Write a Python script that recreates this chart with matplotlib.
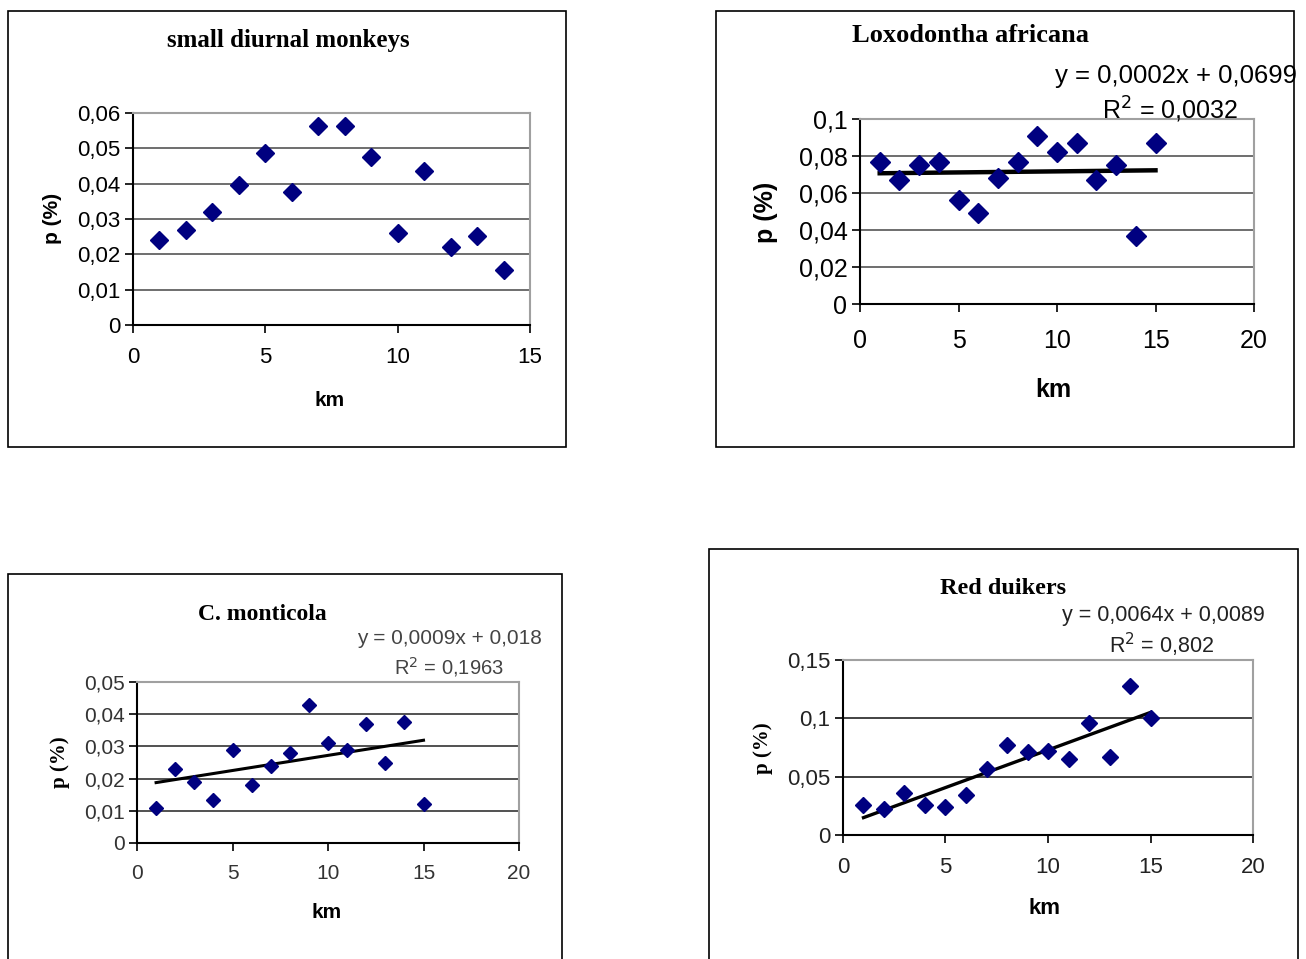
import numpy as np
import matplotlib
matplotlib.use("Agg")
import matplotlib.pyplot as plt
from matplotlib.patches import Rectangle
from matplotlib.ticker import FuncFormatter, MultipleLocator

W, H = 1306, 959

# ---------------- data ----------------
km_monkeys = [1, 2, 3, 4, 5, 6, 7, 8, 9, 10, 11, 12, 13, 14]
p_monkeys = [0.024, 0.027, 0.032, 0.0395, 0.0487, 0.0375, 0.0563, 0.0563,
             0.0475, 0.026, 0.0435, 0.0222, 0.0252, 0.0155]

km_elephant = [1, 2, 3, 4, 5, 6, 7, 8, 9, 10, 11, 12, 13, 14, 15]
p_elephant = [0.077, 0.067, 0.075, 0.077, 0.056, 0.049, 0.068, 0.077,
              0.091, 0.082, 0.087, 0.067, 0.075, 0.037, 0.087]

km_monticola = [1, 2, 3, 4, 5, 6, 7, 8, 9, 10, 11, 12, 13, 14, 15]
p_monticola = [0.011, 0.023, 0.019, 0.0135, 0.029, 0.018, 0.024, 0.028,
               0.043, 0.031, 0.029, 0.037, 0.025, 0.0375, 0.012]

km_duikers = [1, 2, 3, 4, 5, 6, 7, 8, 9, 10, 11, 12, 13, 14, 15]
p_duikers = [0.0257, 0.022, 0.036, 0.0257, 0.024, 0.034, 0.0566, 0.077,
             0.071, 0.072, 0.065, 0.096, 0.067, 0.1277, 0.1]

titles = ["small diurnal monkeys", "Loxodontha africana", "C. monticola", "Red duikers"]
eq_texts = [None,
            ("y = 0,0002x + 0,0699", "R$^2$ = 0,0032"),
            ("y = 0,0009x + 0,018", "R$^2$ = 0,1963"),
            ("y = 0,0064x + 0,0089", "R$^2$ = 0,802")]
x_label = "km"
y_label = "p (%)"

# ---------------- helpers ----------------
fig = plt.figure(figsize=(W / 100, H / 100), dpi=100)
fig.patch.set_facecolor("white")

SANS = ["Liberation Sans", "Arial", "DejaVu Sans"]
SERIF = ["Liberation Serif", "Times New Roman", "DejaVu Serif"]


def fx(x):
    return x / W


def fy(y):
    return 1 - y / H


def box(x0, y0, x1, y1):
    fig.add_artist(Rectangle((fx(x0), fy(y1)), fx(x1) - fx(x0), fy(y0) - fy(y1),
                             transform=fig.transFigure, fill=False,
                             edgecolor="black", linewidth=1.2))


def comma(v, pos=None):
    if abs(v) < 1e-12:
        return "0"
    return f"{v:g}".replace(".", ",")


def make_axes(x0, y0, x1, y1, xmax, xstep, ymax, ystep, fs, grid_color,
              xpad, tick_color="black"):
    ax = fig.add_axes([fx(x0), fy(y1), fx(x1) - fx(x0), fy(y0) - fy(y1)])
    ax.set_xlim(0, xmax)
    ax.set_ylim(0, ymax)
    ax.xaxis.set_major_locator(MultipleLocator(xstep))
    ax.yaxis.set_major_locator(MultipleLocator(ystep))
    ax.xaxis.set_major_formatter(FuncFormatter(comma))
    ax.yaxis.set_major_formatter(FuncFormatter(comma))
    ax.tick_params(direction="out", length=6, width=1.2, labelsize=fs,
                   colors="black", labelcolor=tick_color, pad=3)
    ax.tick_params(axis="x", pad=xpad)
    for lab in ax.get_xticklabels() + ax.get_yticklabels():
        lab.set_family(SANS)
    for s in ("top", "right"):
        ax.spines[s].set_color("#a0a0a0")
        ax.spines[s].set_linewidth(1.5)
    for s in ("left", "bottom"):
        ax.spines[s].set_color("black")
        ax.spines[s].set_linewidth(1.5)
    ax.grid(axis="y", color=grid_color, linewidth=1.2)
    ax.set_axisbelow(True)
    return ax


def trend(ax, xs, ys, lw):
    k, b = np.polyfit(xs, ys, 1)
    xx = np.array([min(xs), max(xs)])
    ax.plot(xx, k * xx + b, color="black", linewidth=lw, zorder=2)


MARK = dict(marker="D", linestyle="none", color="#000080", zorder=3)

# ---------------- panel 1 ----------------
box(8, 11, 566, 447)
ax1 = make_axes(133, 113, 530, 325, 15, 5, 0.06, 0.01, 16, "#555555", 10)
ax1.plot(km_monkeys, p_monkeys, markersize=9, **MARK)
fig.text(fx(288), fy(40), titles[0], ha="center", va="center",
         family=SERIF, fontweight="bold", fontsize=18)
fig.text(fx(330), fy(401), x_label, ha="center", va="center",
         family=SANS, fontweight="bold", fontsize=15)
fig.text(fx(52), fy(218), y_label, ha="center", va="center", rotation=90,
         family=SANS, fontweight="bold", fontsize=15)

# ---------------- panel 2 ----------------
box(716, 11, 1294, 447)
ax2 = make_axes(860, 119, 1254, 304, 20, 5, 0.1, 0.02, 18, "#555555", 12)
trend(ax2, km_elephant, p_elephant, 3.2)
ax2.plot(km_elephant, p_elephant, markersize=10, **MARK)
fig.text(fx(970), fy(35), titles[1], ha="center", va="center",
         family=SERIF, fontweight="bold", fontsize=19)
fig.text(fx(1053), fy(390), x_label, ha="center", va="center",
         family=SANS, fontweight="bold", fontsize=18)
fig.text(fx(766), fy(212), y_label, ha="center", va="center", rotation=90,
         family=SANS, fontweight="bold", fontsize=18)
fig.text(fx(1297), fy(76), eq_texts[1][0], ha="right", va="center",
         family=SANS, fontsize=18.5)
fig.text(fx(1170), fy(110), eq_texts[1][1], ha="center", va="center",
         family=SANS, fontsize=18)

# ---------------- panel 3 ----------------
box(8, 574, 562, 975)
ax3 = make_axes(137, 682, 519, 843, 20, 5, 0.05, 0.01, 15, "#333333", 9,
                tick_color="#333333")
trend(ax3, km_monticola, p_monticola, 2.2)
ax3.plot(km_monticola, p_monticola, markersize=7.5, **MARK)
fig.text(fx(262), fy(615), titles[2], ha="center", va="center",
         family=SERIF, fontweight="bold", fontsize=17)
fig.text(fx(327), fy(913), x_label, ha="center", va="center",
         family=SANS, fontweight="bold", fontsize=15)
fig.text(fx(60), fy(762), y_label, ha="center", va="center", rotation=90,
         family=SERIF, fontweight="bold", fontsize=15)
fig.text(fx(542), fy(638), eq_texts[2][0], ha="right", va="center",
         family=SANS, fontsize=15, color="#444444")
fig.text(fx(449), fy(667), eq_texts[2][1], ha="center", va="center",
         family=SANS, fontsize=14.5, color="#444444")

# ---------------- panel 4 ----------------
box(709, 549, 1298, 975)
ax4 = make_axes(843, 660, 1253, 835, 20, 5, 0.15, 0.05, 16, "#222222", 10,
                tick_color="#222222")
trend(ax4, km_duikers, p_duikers, 2.4)
ax4.plot(km_duikers, p_duikers, markersize=8, **MARK)
fig.text(fx(1003), fy(589), titles[3], ha="center", va="center",
         family=SERIF, fontweight="bold", fontsize=17.5)
fig.text(fx(1045), fy(908), x_label, ha="center", va="center",
         family=SANS, fontweight="bold", fontsize=16)
fig.text(fx(763), fy(748), y_label, ha="center", va="center", rotation=90,
         family=SERIF, fontweight="bold", fontsize=15)
fig.text(fx(1265), fy(616), eq_texts[3][0], ha="right", va="center",
         family=SANS, fontsize=15.5, color="#222222")
fig.text(fx(1162), fy(645), eq_texts[3][1], ha="center", va="center",
         family=SANS, fontsize=15.5, color="#222222")

fig.savefig("out.png", dpi=100, facecolor="white")
